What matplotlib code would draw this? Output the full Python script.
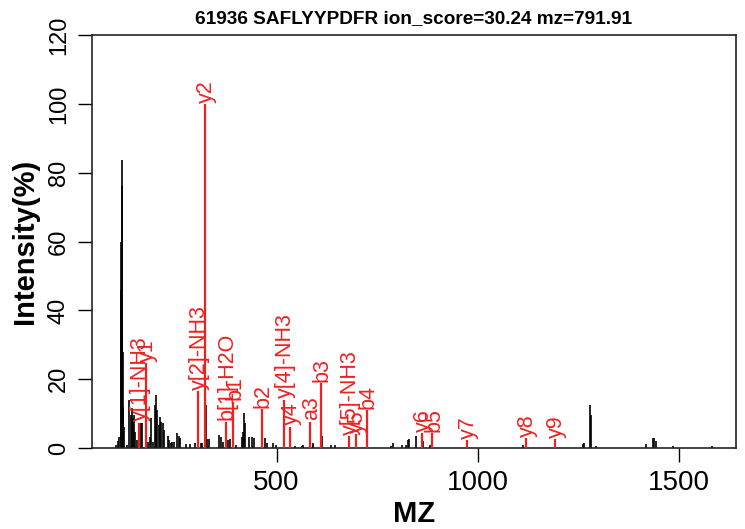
import matplotlib
matplotlib.use("Agg")
import matplotlib.pyplot as plt

# spectrum peaks (mz, relative intensity %)
peak_mz = [101.1, 105.3, 108.6, 113.1, 114.1, 115.1, 116.1, 117.1, 118.1, 119.1, 121.1,
           127.7, 133.4, 137.6, 140.9, 144.2, 146.7, 149.1, 152.6, 162.5, 165.0,
           181.4, 185.6, 188.1, 193.9, 198.1, 200.6, 203.8, 207.3, 210.5, 213.8,
           217.3, 219.7, 229.7, 232.9, 237.9, 241.2, 245.2, 253.4, 257.6, 260.9,
           275.0, 285.0, 297.4, 311.5, 314.0, 323.5, 327.9, 331.4, 357.7, 361.2,
           366.2, 380.1, 384.3, 399.2, 413.3, 415.8, 418.3, 420.8, 432.2, 439.7,
           444.6, 471.2, 476.9, 491.8, 498.5, 545.8, 562.4, 566.4, 589.6, 591.2,
           611.8, 635.0, 645.8, 724.4, 783.4, 790.0, 810.8, 821.5, 827.2, 829.7,
           845.6, 862.2, 864.7, 881.3, 1113.0, 1260.3, 1263.4, 1278.3, 1280.0,
           1292.4, 1416.8, 1434.2, 1438.2, 1441.6, 1483.9, 1580.7]
peak_int = [1.0, 2.0, 3.3, 59.9, 45.9, 76.2, 38.0, 83.7, 28.0, 12.0, 6.0,
            1.0, 14.0, 9.6, 11.5, 8.6, 9.6, 4.7, 2.3, 7.3, 7.3,
            1.8, 3.3, 8.6, 1.8, 12.5, 15.4, 11.0, 6.7, 9.1, 7.6,
            7.4, 5.2, 3.5, 2.3, 1.5, 1.8, 1.8, 4.5, 3.5, 2.8,
            1.3, 1.3, 1.5, 1.5, 1.5, 12.5, 2.5, 2.6, 3.8, 3.1,
            1.8, 2.3, 2.6, 1.0, 3.3, 4.7, 10.1, 7.2, 3.3, 3.3,
            2.8, 2.8, 1.5, 1.5, 1.0, 0.7, 0.7, 1.0, 1.4, 1.0,
            3.4, 1.0, 0.8, 2.6, 0.7, 1.4, 1.0, 1.0, 2.2, 2.6,
            3.4, 2.9, 2.1, 1.0, 1.0, 1.3, 1.5, 12.6, 9.7,
            0.6, 1.2, 2.8, 2.8, 2.1, 0.7, 0.7]

# matched fragment ions
ion_labels = ["y[1]-NH3", "y1", "y[2]-NH3", "y2", "b[1]-H2O", "b1", "b2",
              "y[4]-NH3", "y4", "a3", "b3", "y[5]-NH3", "y5", "b4", "y6", "b5",
              "y7", "y8", "y9"]
ion_mz = [158.09, 175.12, 305.16, 322.19, 374.23, 392.24, 463.28,
          517.24, 534.27, 582.35, 610.35, 680.30, 697.33, 723.43, 860.39, 886.50,
          973.48, 1120.55, 1191.58]
ion_int = [7.4, 24.7, 16.6, 100.0, 7.6, 13.5, 11.2,
           14.0, 6.2, 7.6, 18.8, 3.5, 4.1, 11.0, 4.3, 4.3,
           2.3, 2.8, 2.5]

title = "61936 SAFLYYPDFR ion_score=30.24 mz=791.91"

plt.rcParams['font.family'] = ['Liberation Sans', 'DejaVu Sans']
red = '#f02020'

fig = plt.figure(figsize=(7.45, 5.29), dpi=100)
ax = fig.add_axes([92 / 745, 1 - 448 / 529, 644 / 745, 412.7 / 529])

ax.vlines(peak_mz, 0, peak_int, color='black', linewidth=1.2, zorder=2)
ax.vlines(ion_mz, 0, ion_int, color=red, linewidth=1.6, zorder=3)
for lab, xm, yi in zip(ion_labels, ion_mz, ion_int):
    ax.annotate(lab, xy=(xm, yi), xytext=(1, 1), textcoords='offset points',
                rotation=90, ha='center', va='bottom', color=red, fontsize=15.5,
                zorder=4, annotation_clip=False)

ax.set_xlim(41.5, 1641)
ax.set_ylim(0, 120)
ax.set_xticks([500, 1000, 1500])
ax.set_yticks(range(0, 121, 20))
ax.tick_params(axis='both', direction='out', length=10, width=1, color='black')
ax.tick_params(axis='x', labelsize=20, pad=6)
ax.tick_params(axis='y', labelsize=17, pad=6)
for t in ax.get_yticklabels():
    t.set_rotation(90)
    t.set_va('center')
for s in ax.spines.values():
    s.set_linewidth(1.2)
    s.set_color('#222222')

ax.set_xlabel("MZ", fontsize=21, fontweight='bold', labelpad=3)
ax.set_ylabel("Intensity(%)", fontsize=21, fontweight='bold', labelpad=6)
ax.set_title(title, fontsize=13.7, fontweight='bold', pad=9)

fig.savefig("out.png", dpi=100)
